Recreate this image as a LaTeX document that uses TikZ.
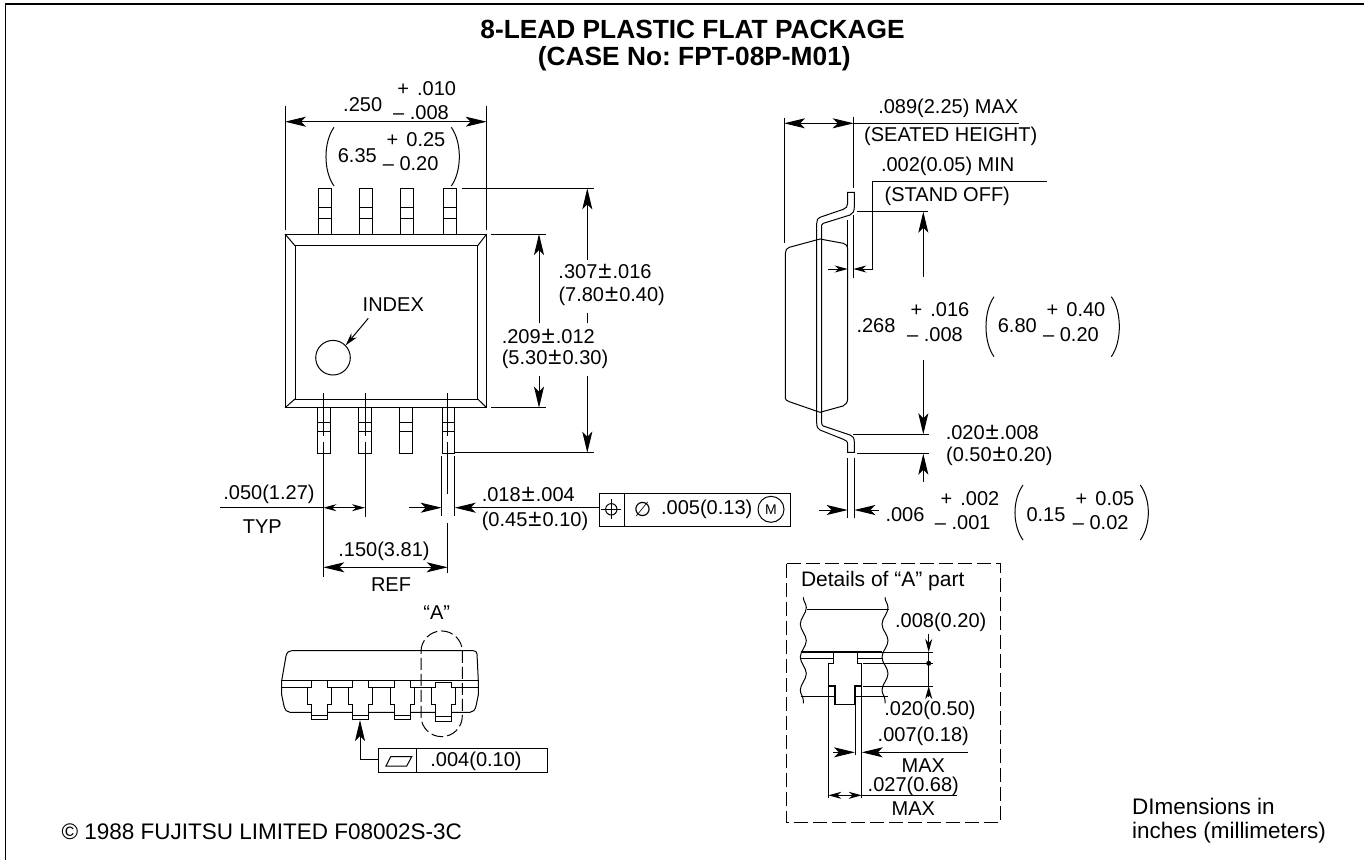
\documentclass[tikz,border=0pt]{standalone}
\usepackage{fontspec}
\setmainfont{Liberation Sans}
\newfontfamily\symbfont{DejaVu Sans}
\usetikzlibrary{arrows.meta,decorations.pathmorphing}
\newcommand{\dimfont}{\fontsize{20}{22}\selectfont\frenchspacing}
\newcommand{\plusgap}{\kern2.5pt}
\newcommand{\plmn}{\kern1pt{\fontsize{24}{22}\selectfont ±}\kern1pt}
\begin{document}
\begin{tikzpicture}[
      x=1pt,y=-1pt,
      line width=1pt,
      >={Stealth[length=21pt,width=10pt,inset=5pt]},
      dimtext/.style={inner sep=0pt,font=\dimfont},
      foottext/.style={inner sep=0pt,anchor=west,font=\fontsize{22.5}{25}\selectfont},
      titletext/.style={inner sep=0pt,font=\fontsize{26.3}{30}\selectfont\bfseries\frenchspacing},
      smallhead/.style={>={Stealth[length=13pt,width=7pt,inset=4pt]}},
      dashframe/.style={dash pattern=on 14pt off 5pt},
      wavy/.style={decorate,decoration={snake,segment length=33pt,amplitude=3pt}}
      ]
    \useasboundingbox (0,0) rectangle (1364,860);
    \draw[line width=1.3pt] (1364,4) -- (5.7,4) -- (5.7,860);

    \node[titletext] (title1) at (692.5,29) {8-LEAD PLASTIC FLAT PACKAGE};
    \node[titletext] (title2) at (694.3,58.5) {(CASE No: FPT-08P-M01)};

    % top view
    \draw (285,234) rectangle (486.7,407.7);
    \draw (295,245.7) rectangle (477.7,399);
    \draw (285,234) -- (295,245.7);
    \draw (486.7,234) -- (477.7,245.7);
    \draw (285,407.7) -- (295,399);
    \draw (486.7,407.7) -- (477.7,399);
    \draw (333,357.7) circle (17.3);
    \foreach \lx in {318.3,359.5,400.3,443} {% upper leads
      \draw (\lx,234) -- (\lx,188.3) -- (\lx+13,188.3) -- (\lx+13,234);
      \draw (\lx,207.3) -- (\lx+13,207.3);
      \draw (\lx,218) -- (\lx+13,218);
    }
    \foreach \lx in {317.7,358.7,399.7,442} {% lower leads
      \draw (\lx,407.7) -- (\lx,453) -- (\lx+12.7,453) -- (\lx+12.7,407.7);
      \draw (\lx,422.7) -- (\lx+12.7,422.7);
      \draw (\lx,431) -- (\lx+12.7,431);
    }
    \draw (323.3,393) -- (323.3,436) (323.3,442) -- (323.3,576.7);
    \draw (365,393) -- (365,436) (365,442) -- (365,516.7);
    \draw (447.7,393) -- (447.7,436) (447.7,442) -- (447.7,494);
    \draw (447.7,523) -- (447.7,573);
    \draw (441.7,456) -- (441.7,515.7);
    \draw (454.7,456) -- (454.7,515.7);

    \node[dimtext] (index) at (393.3,305) {INDEX};
    \draw[->,smallhead] (368.3,318.3) -- (345.7,345.3);

    % width
    \draw (285,106) -- (285,230);
    \draw (486.7,106) -- (486.7,230);
    \draw[<->] (285,121.7) -- (486.7,121.7);
    \node[dimtext] (w1) at (362.7,105) {.250};
    \node[dimtext] (w2) at (426.7,89) {+ \plusgap.010};
    \node[dimtext] (w3) at (421,112.7) {– .008};
    \node[dimtext] (w4) at (357.3,156) {6.35};
    \node[dimtext] (w5) at (416,140) {+ \plusgap0.25};
    \node[dimtext] (w6) at (410.7,164) {– 0.20};

    % heights
    \draw (462.3,188.3) -- (594,188.3);
    \draw (455,452.7) -- (594,452.7);
    \draw (491,234) -- (546,234);
    \draw (491,407.7) -- (546,407.7);
    \draw[->] (587.3,260) -- (587.3,188.3);
    \draw (587.3,312.7) -- (587.3,323);
    \draw[->] (587.3,376) -- (587.3,452.7);
    \draw[->] (539,323.3) -- (539,234);
    \draw[->] (539,376) -- (539,407.7);
    \node[dimtext] (h1) at (605,271.7) {.307\plmn.016};
    \node[dimtext] (h2) at (611.7,296.7) {(7.80\plmn0.40)};
    \node[dimtext] (h3) at (548.3,336) {.209\plmn.012};
    \node[dimtext] (h4) at (555,359.3) {(5.30\plmn0.30)};

    % pitch and lead width
    \draw (220,507.7) -- (323.3,507.7);
    \draw[<->,smallhead] (323.3,507.7) -- (365,507.7);
    \node[dimtext] (p1) at (269,494) {.050(1.27)};
    \node[dimtext] (p2) at (262.3,526.7) {TYP};
    \draw[->] (409,507.7) -- (441.7,507.7);
    \draw[->] (599,507.7) -- (454.7,507.7);
    \node[dimtext] (l1) at (528.3,494.3) {.018\plmn.004};
    \node[dimtext] (l2) at (535,521.7) {(0.45\plmn0.10)};
    \draw[<->] (323.3,567.3) -- (447.7,567.3);
    \node[dimtext] (r1) at (384,551.7) {.150(3.81)};
    \node[dimtext] (r2) at (391,585) {REF};

    % position tolerance box
    \draw (599,493.3) rectangle (790.7,526);
    \draw (624.3,493.3) -- (624.3,526);
    \draw (611.3,509.3) circle (5.7);
    \draw (601.3,509.3) -- (621.3,509.3);
    \draw (611.3,499.3) -- (611.3,519.3);
    \node[dimtext,font=\symbfont\fontsize{20}{22}\selectfont] (dia) at (642.7,509.3) {∅};
    \node[dimtext] (tol) at (706.7,509.3) {.005(0.13)};
    \node[draw,circle,inner sep=0pt,minimum size=26pt,font=\fontsize{14}{16}\selectfont] (mm) at (771,509.3) {M};

    % front view
    \draw (291.7,650.7) -- (473.3,650.7) .. controls (476,650.7) and (476.5,652) .. (477,654) -- (478.3,680.7)
      -- (478.3,695) -- (476,706) .. controls (475,710) and (473,712.3) .. (470,712.3)
      -- (290,712.3) .. controls (287,712.3) and (285,710) .. (284,706) -- (281.7,695) -- (281.7,680.7)
      -- (286,656) .. controls (287,652) and (289,650.7) .. (291.7,650.7);
    \draw (281.7,680.7) -- (478.3,680.7);
    \draw (281.7,687.3) -- (478.3,687.3);
    \foreach \cx/\ty/\by/\my in {319.7/680.7/719.3/715,360.7/680.7/719.3/715,402/680.7/719.3/715,443.7/682.3/721/716} {
      \draw[fill=white] (\cx-8,\ty) -- (\cx+8,\ty) -- (\cx+8,687.3) -- (\cx+12,687.3) -- (\cx+12,704)
        -- (\cx+8,704) -- (\cx+8,\by) -- (\cx-8,\by) -- (\cx-8,704) -- (\cx-12,704) -- (\cx-12,687.3)
        -- (\cx-8,687.3) -- cycle;
      \draw (\cx-8,\my) -- (\cx+8,\my);
    }
    \draw[dash pattern=on 12pt off 4pt] (421,651.6) arc (180:360:20.65) -- (462.3,716) arc (0:180:20.65) -- cycle;
    \node[dimtext] (partA) at (436.7,612.7) {“A”};

    % flatness box
    \draw (378.3,748.3) rectangle (547.3,772.3);
    \draw (416.3,748.3) -- (416.3,772.3);
    \draw (386,766) -- (390.7,756.7) -- (411.7,756.7) -- (406.7,766) -- cycle;
    \node[dimtext] (flat) at (476,761) {.004(0.10)};
    \draw[->] (378.3,759) -- (360,759) -- (360,720);

    % side view
    \draw (785.3,253.3) .. controls (785.3,250) and (787,248) .. (789.3,247.3) -- (820,239) -- (843.3,243.3)
      .. controls (846,244) and (847.7,246) .. (847.7,248.3) -- (847.7,398.3)
      .. controls (847.7,402) and (846,405) .. (843,406) -- (820,412.3) -- (789.3,401.7)
      .. controls (787,400.5) and (785.3,400) .. (785.3,398.3) -- cycle;
    \draw (847.7,192.3) -- (847.7,203.3) .. controls (847.7,206.5) and (846,208.4) .. (843.3,209.3)
      -- (820,217.3) .. controls (817.7,218) and (816.7,220) .. (816.7,223.3)
      -- (816.7,423) .. controls (816.7,427) and (818,429) .. (820,430)
      -- (843.3,439.3) .. controls (846,440.5) and (847.7,441) .. (847.7,445)
      -- (847.7,452.3) -- (854.3,452.3) -- (854.3,442)
      .. controls (854.3,437.5) and (852.5,436) .. (850,435) -- (823.3,426)
      .. controls (822.3,425.6) and (821.7,424.5) .. (821.7,423)
      -- (821.7,225) .. controls (821.7,224.2) and (822.3,223.6) .. (823.3,223.3)
      -- (850,215) .. controls (853,214) and (854.3,211) .. (854.3,206.7) -- (854.3,192.3) -- cycle;

    \draw (784,117.7) -- (784,242.7);
    \draw (853.7,116.7) -- (853.7,188.3);
    \draw[<->] (784,123.3) -- (853.7,123.3);
    \draw (853.7,123.3) -- (1019.3,123.3);
    \node[dimtext] (s1) at (948.3,108.3) {.089(2.25) MAX};
    \node[dimtext] (s2) at (950.7,136.7) {(SEATED HEIGHT)};

    \node[dimtext] (s3) at (947.7,166) {.002(0.05) MIN};
    \node[dimtext] (s4) at (947.3,196.7) {(STAND OFF)};
    \draw[->,smallhead] (1046.7,181.3) -- (872.7,181.3) -- (872.7,269) -- (853.3,269);
    \draw[->,smallhead] (828,269) -- (847.7,269);
    \draw (847.7,220) -- (847.7,250);
    \draw (853.3,215) -- (853.3,278);

    \draw (857.3,211.7) -- (928.3,211.7);
    \draw (853.3,434.3) -- (929.3,434.3);
    \draw (857.3,453.7) -- (929.3,453.7);
    \draw[->] (923.3,276.7) -- (923.3,211.7);
    \draw[->] (923.3,360) -- (923.3,434.3);
    \draw[->] (923.3,481.7) -- (923.3,453.7);
    \node[dimtext] (c1) at (876,326) {.268};
    \node[dimtext] (c2) at (940,310) {+ \plusgap.016};
    \node[dimtext] (c3) at (935,334.3) {– .008};
    \node[dimtext] (c4) at (1017.3,326) {6.80};
    \node[dimtext] (c5) at (1076,310) {+ \plusgap0.40};
    \node[dimtext] (c6) at (1071,334.3) {– 0.20};
    \node[dimtext] (o1) at (992.3,432.7) {.020\plmn.008};
    \node[dimtext] (o2) at (999.3,456.7) {(0.50\plmn0.20)};

    \draw (847.7,458.3) -- (847.7,518.3);
    \draw (854.3,458.3) -- (854.3,518.3);
    \draw[->] (819,510) -- (847.7,510);
    \draw[->] (879.3,510) -- (854.3,510);
    \node[dimtext] (t1) at (905,514.3) {.006};
    \node[dimtext] (t2) at (970,498.3) {+ \plusgap.002};
    \node[dimtext] (t3) at (962.7,522.3) {– .001};
    \node[dimtext] (t4) at (1046,514.3) {0.15};
    \node[dimtext] (t5) at (1105,498.3) {+ \plusgap0.05};
    \node[dimtext] (t6) at (1100.7,522.3) {– 0.02};

    \foreach \lx/\rx/\ty/\by in {326/459.3/127.3/186,986/1119.3/296.7/356.7,1015/1148.3/485/540} {
      \draw (\lx+8,\ty) .. controls (\lx-2.7,\ty+15) and (\lx-2.7,\by-15) .. (\lx+8,\by);
      \draw (\rx-8,\ty) .. controls (\rx+2.7,\ty+15) and (\rx+2.7,\by-15) .. (\rx-8,\by);
    }

    % details of part A
    \draw[dashframe] (786.7,563.7) rectangle (1000.7,822.3);
    \node[dimtext,font=\fontsize{21}{23}\selectfont] (d1) at (882.7,580.7) {Details of “A” part};
    \draw[wavy] (803.3,597.3) -- (803.3,703.3);
    \draw[wavy] (885,597.3) -- (885,703.3);
    \draw (807.3,609.3) -- (889.3,609.3);
    \draw[line width=1.4pt] (800.7,652) -- (881.7,652);
    \draw[line width=1.4pt] (800.7,658.3) -- (833.3,658.3);
    \draw[line width=1.4pt] (857.3,658.3) -- (881.7,658.3);
    \draw (800.7,696.7) -- (835,696.7);
    \draw (855,696.7) -- (888,696.7);
    \draw[line width=1.4pt] (833.3,652) -- (857.3,652) -- (857.3,663.3) -- (861.7,663.3) -- (861.7,686)
      -- (855,686) -- (855,704.3) -- (835,704.3) -- (835,686) -- (828.3,686) -- (828.3,663.3)
      -- (833.3,663.3) -- cycle;

    \draw (881.7,652) -- (932.7,652);
    \draw (863.3,663.3) -- (932.7,663.3);
    \draw (863.3,686) -- (932.7,686);
    \draw[smallhead,->] (928.7,634) -- (928.7,652);
    \draw (928.7,652) -- (928.7,686);
    \draw[smallhead,->] (928.7,696.7) -- (928.7,686);
    \fill (928.7,663.3) circle (2.5);
    \node[dimtext] (d2) at (940.7,622) {.008(0.20)};
    \node[dimtext] (d3) at (930,710.7) {.020(0.50)};

    \draw (828.3,686) -- (828.3,798);
    \draw (861.7,686) -- (861.7,798);
    \draw (855,704.3) -- (855,755);
    \draw[->] (833.3,752.3) -- (855,752.3);
    \draw[->] (967.7,752.3) -- (861.7,752.3);
    \node[dimtext] (d4) at (923.3,736.7) {.007(0.18)};
    \node[dimtext] (d5) at (923.3,765.7) {MAX};
    \draw[smallhead,<->] (828.3,795.3) -- (861.7,795.3);
    \draw (861.7,795.3) -- (956.7,795.3);
    \node[dimtext] (d6) at (913.3,786.7) {.027(0.68)};
    \node[dimtext] (d7) at (913.3,808.3) {MAX};

    % footer
    \node[foottext] (copy) at (61,832) {© 1988 FUJITSU LIMITED F08002S-3C};
    \node[foottext] (note1) at (1131.5,806.7) {DImensions in};
    \node[foottext] (note2) at (1131.5,833) {inches (millimeters)};
\end{tikzpicture}
\end{document}
